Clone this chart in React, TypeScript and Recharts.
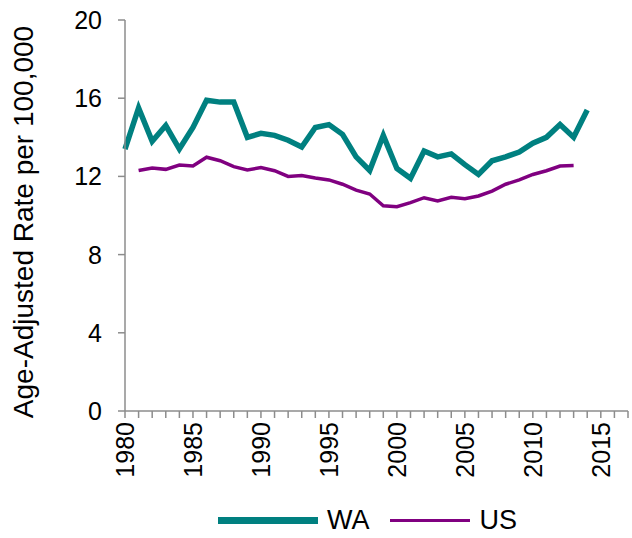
import { LineChart, Line, XAxis, YAxis, Legend } from 'recharts';

const YEARS = [
  1980, 1981, 1982, 1983, 1984, 1985, 1986, 1987, 1988, 1989, 1990, 1991,
  1992, 1993, 1994, 1995, 1996, 1997, 1998, 1999, 2000, 2001, 2002, 2003,
  2004, 2005, 2006, 2007, 2008, 2009, 2010, 2011, 2012, 2013, 2014,
];

const WA = [
  13.4, 15.5, 13.8, 14.6, 13.4, 14.5, 15.9, 15.8, 15.8, 14.0, 14.2, 14.1,
  13.85, 13.5, 14.5, 14.65, 14.15, 13.0, 12.3, 14.1, 12.4, 11.9, 13.3, 13.0,
  13.15, 12.6, 12.1, 12.8, 13.0, 13.25, 13.7, 14.0, 14.65, 14.0, 15.4,
];

const US = [
  null, 12.3, 12.43, 12.36, 12.58, 12.53, 12.98, 12.8, 12.5, 12.33, 12.45, 12.29,
  12.0, 12.04, 11.92, 11.82, 11.6, 11.3, 11.1, 10.5, 10.45, 10.66, 10.91, 10.74,
  10.93, 10.86, 11.0, 11.25, 11.6, 11.82, 12.1, 12.29, 12.53, 12.56, null,
];

const LABEL_YEARS = [1980, 1985, 1990, 1995, 2000, 2005, 2010, 2015];
const Y_TICKS = [0, 4, 8, 12, 16, 20];
const X_TICKS = Array.from({ length: 38 }, (_, i) => 1980 + i);

const data = YEARS.map((year, i) => ({ year, WA: WA[i], US: US[i] }));

const FONT = '"Liberation Sans", Arial, sans-serif';
const AXIS = '#8c8c8c';
const WA_COLOR = '#008080';
const US_COLOR = '#800080';

function YearTick({ x, y, payload }: any) {
  if (!LABEL_YEARS.includes(payload.value)) return null;
  return (
    <text
      x={x}
      y={y + 2}
      transform={`rotate(-90, ${x}, ${y + 2})`}
      textAnchor="end"
      dominantBaseline="central"
      fontSize={25}
      fontFamily={FONT}
      fill="#000"
    >
      {payload.value}
    </text>
  );
}

function RateTick({ x, y, payload }: any) {
  return (
    <text
      x={x - 14}
      y={y}
      textAnchor="end"
      dominantBaseline="central"
      fontSize={25}
      fontFamily={FONT}
      fill="#000"
    >
      {payload.value}
    </text>
  );
}

function LegendContent() {
  return (
    <div style={{ display: 'flex', alignItems: 'center', paddingLeft: 218, fontFamily: FONT, fontSize: 27, color: '#000' }}>
      <div style={{ width: 100, height: 7, background: WA_COLOR }} />
      <span style={{ marginLeft: 9 }}>WA</span>
      <div style={{ width: 80, height: 3.5, background: US_COLOR, marginLeft: 20 }} />
      <span style={{ marginLeft: 10 }}>US</span>
    </div>
  );
}

export default function App() {
  return (
    <div style={{ position: 'absolute', left: 0, top: 0, width: 632, height: 538, background: '#fff' }}>
      <LineChart width={632} height={538} data={data} margin={{ top: 20, right: 4, bottom: 0, left: 0 }}>
        <XAxis
          dataKey="year"
          type="number"
          domain={[1980, 2017]}
          ticks={X_TICKS}
          interval={0}
          tick={<YearTick />}
          tickSize={7}
          stroke={AXIS}
          strokeWidth={1.5}
          height={127}
        />
        <YAxis
          domain={[0, 20]}
          ticks={Y_TICKS}
          interval={0}
          tick={<RateTick />}
          tickSize={7}
          stroke={AXIS}
          strokeWidth={1.5}
          width={125}
          label={{
            content: () => (
              <text
                x={23}
                y={222}
                transform="rotate(-90, 23, 222)"
                textAnchor="middle"
                dominantBaseline="central"
                fontSize={28}
                fontFamily={FONT}
                fill="#000"
              >
                Age-Adjusted Rate per 100,000
              </text>
            ),
          }}
        />
        <Legend
          verticalAlign="middle"
          content={<LegendContent />}
          wrapperStyle={{ left: 0, top: 505, width: 632 }}
        />
        <Line dataKey="WA" stroke={WA_COLOR} strokeWidth={5.5} dot={false} isAnimationActive={false} />
        <Line dataKey="US" stroke={US_COLOR} strokeWidth={3.5} dot={false} isAnimationActive={false} connectNulls={false} />
      </LineChart>
    </div>
  );
}
